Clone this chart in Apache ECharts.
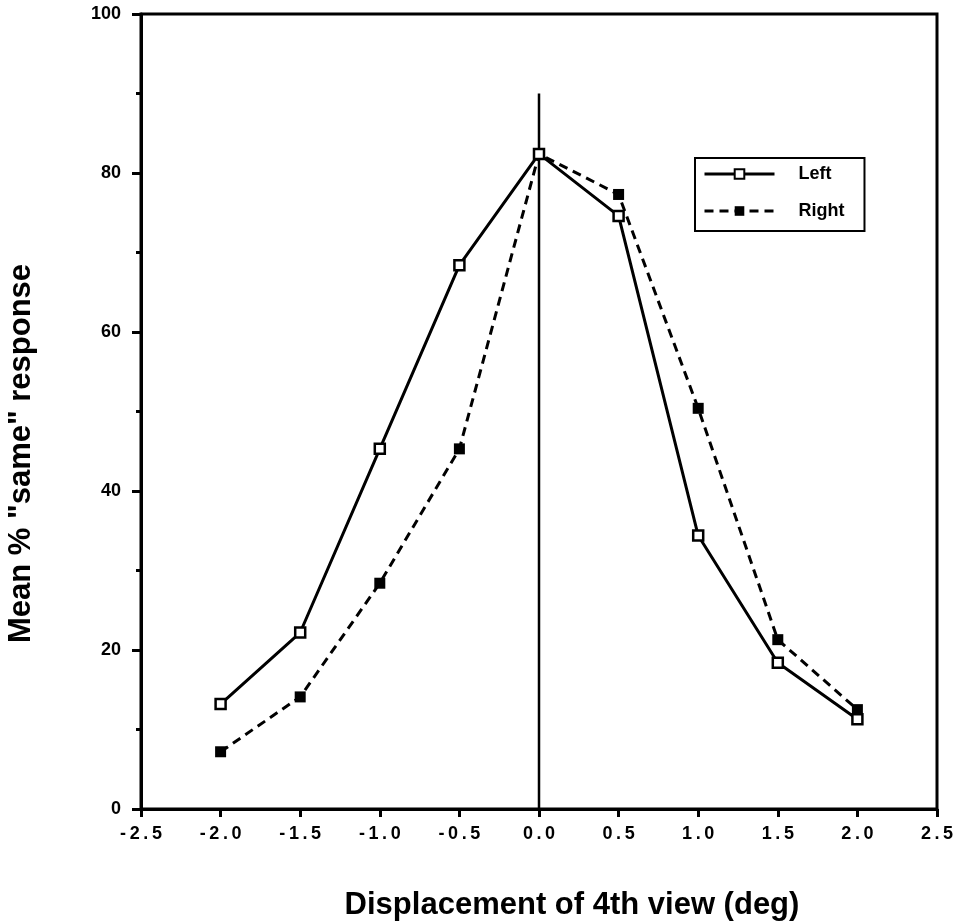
<!DOCTYPE html>
<html>
<head>
<meta charset="utf-8">
<script src="https://cdn.jsdelivr.net/npm/echarts@6/dist/echarts.min.js"></script>
<style>
html,body{margin:0;padding:0;background:#fff;}
#chart{width:954px;height:924px;}
</style>
</head>
<body>
<div id="chart"></div>
<script>
// Data
var displacement = [-2.0, -1.5, -1.0, -0.5, 0.0, 0.5, 1.0, 1.5, 2.0];
var leftValues  = [13.2, 22.2, 45.3, 68.4, 82.4, 74.6, 34.4, 18.4, 11.3];
var rightValues = [7.2, 14.1, 28.4, 45.3, 82.4, 77.3, 50.4, 21.3, 12.5];
var zeroLineX = [0.0, 0.0];
var zeroLineY = [0, 90];
var seriesNames = ['Left', 'Right'];
var xTitle = 'Displacement of 4th view (deg)';
var yTitle = 'Mean % "same" response';

var FONT = '"Liberation Sans", Arial, Helvetica, sans-serif';

function pairs(xs, ys) { return xs.map(function (x, i) { return [x, ys[i]]; }); }

var chart = echarts.init(document.getElementById('chart'), null, {renderer: 'canvas'});
chart.setOption({
  animation: false,
  backgroundColor: '#ffffff',
  grid: {
    left: 141, right: 17, top: 14, bottom: 115,
    containLabel: false, outerBoundsMode: 'none',
    show: true, borderColor: '#000', borderWidth: 3, backgroundColor: 'transparent'
  },
  legend: {
    data: seriesNames,
    orient: 'vertical',
    left: 695, top: 158,
    itemWidth: 70, itemHeight: 12, itemGap: 19,
    padding: [7, 20, 11, 8],
    borderColor: '#000', borderWidth: 2,
    lineStyle: {width: 3},
    textStyle: {fontFamily: FONT, fontWeight: 'bold', fontSize: 18, color: '#000', padding: [0, 0, 0, 19]}
  },
  xAxis: {
    type: 'value', min: -2.5, max: 2.5, interval: 0.5,
    name: xTitle, nameLocation: 'middle', nameGap: 81,
    nameTextStyle: {fontFamily: FONT, fontWeight: 'bold', fontSize: 31, color: '#000', padding: [0, 0, 0, 66]},
    axisLine: {show: true, onZero: false, lineStyle: {color: '#000', width: 3}},
    axisTick: {show: true, inside: false, length: 8, lineStyle: {color: '#000', width: 3}},
    axisLabel: {
      margin: 16, color: '#000', fontFamily: FONT, fontWeight: 'bold', fontSize: 18,
      formatter: function (v) { return v.toFixed(1).split('').join('\u2009'); }
    },
    splitLine: {show: false}
  },
  yAxis: {
    type: 'value', min: 0, max: 100, interval: 20,
    name: yTitle, nameLocation: 'middle', nameGap: 104,
    nameTextStyle: {fontFamily: FONT, fontWeight: 'bold', fontSize: 31, color: '#000', padding: [0, 84, 0, 0]},
    axisLine: {show: true, onZero: false, lineStyle: {color: '#000', width: 3}},
    axisTick: {show: true, inside: false, length: 9, lineStyle: {color: '#000', width: 3}},
    minorTick: {show: true, splitNumber: 2, length: 5, lineStyle: {color: '#000', width: 3}},
    axisLabel: {margin: 20, color: '#000', fontFamily: FONT, fontWeight: 'bold', fontSize: 18},
    splitLine: {show: false}
  },
  series: [
    {
      name: 'zero', type: 'line', data: pairs(zeroLineX, zeroLineY),
      symbol: 'none', silent: true, z: 1,
      lineStyle: {color: '#000', width: 2.5, type: 'solid'}
    },
    {
      name: seriesNames[0], type: 'line', data: pairs(displacement, leftValues),
      symbol: 'rect', symbolSize: 10, z: 3,
      lineStyle: {color: '#000', width: 3, type: 'solid'},
      itemStyle: {color: '#fff', borderColor: '#000', borderWidth: 2.5}
    },
    {
      name: seriesNames[1], type: 'line', data: pairs(displacement, rightValues),
      symbol: 'rect', symbolSize: 11, z: 2,
      lineStyle: {color: '#000', width: 3, type: [9, 6]},
      itemStyle: {color: '#000', borderColor: '#000', borderWidth: 0}
    }
  ]
});
</script>
</body>
</html>
